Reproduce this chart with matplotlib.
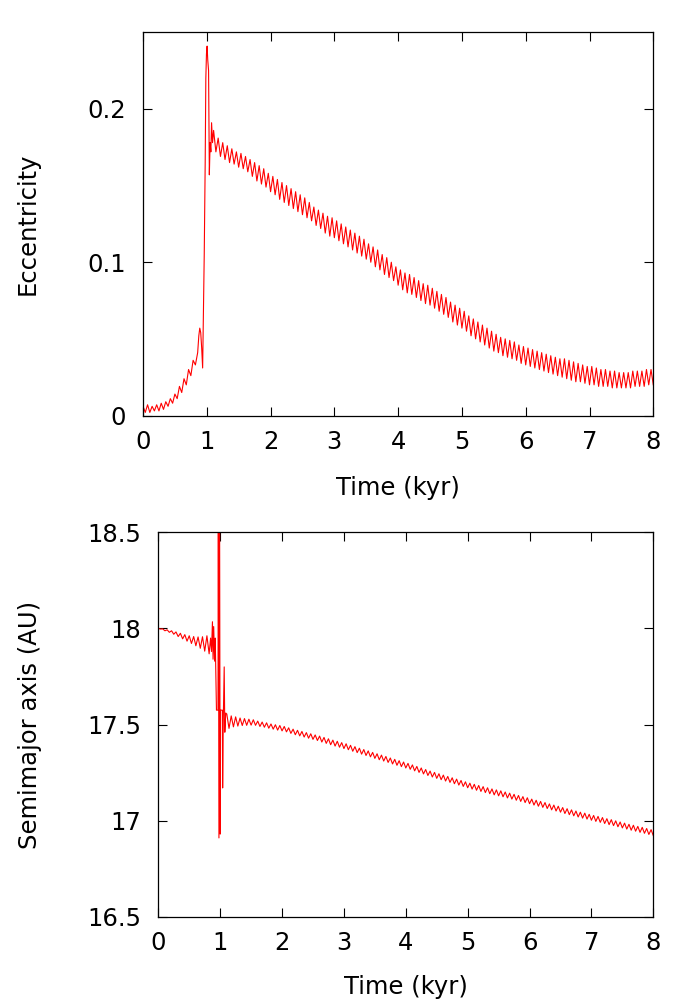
import numpy as np
import matplotlib
matplotlib.use("Agg")
import matplotlib.pyplot as plt

plt.rcParams['font.family'] = ['DejaVu Sans']

# ---------------- data ----------------
# oscillation sampling: peaks every 1/14 kyr, troughs half a period later
OSC = 14.0

# Eccentricity: before the scattering event (t = 0 .. 0.82 kyr)
ecc_pre_peaks = [0.006, 0.007, 0.006, 0.007, 0.008, 0.009, 0.011, 0.014,
                 0.019, 0.024, 0.030, 0.036]
ecc_pre_troughs = [0.002, 0.002, 0.003, 0.003, 0.004, 0.006, 0.008, 0.011,
                   0.015, 0.020, 0.026, 0.033]
# Eccentricity: the jump around t ~ 1 kyr
ecc_event_t = [0.857, 0.875, 0.890, 0.905, 0.920, 0.935, 0.945, 0.960, 0.975,
               0.985, 0.995, 1.005, 1.015, 1.028, 1.040, 1.052, 1.064, 1.075, 1.090]
ecc_event = [0.041, 0.052, 0.057, 0.054, 0.044, 0.031, 0.060, 0.105, 0.165,
             0.220, 0.236, 0.241, 0.232, 0.225, 0.157, 0.178, 0.172, 0.191, 0.178]
# Eccentricity: after the event (peaks from t = 1.107 kyr)
ecc_post_start = 1.107
ecc_post_peaks = [
    0.186, 0.181, 0.178, 0.176, 0.174, 0.172, 0.171,
    0.169, 0.167, 0.165, 0.163, 0.161, 0.158, 0.156,
    0.154, 0.152, 0.150, 0.148, 0.146, 0.144, 0.142,
    0.139, 0.136, 0.134, 0.132, 0.130, 0.129, 0.127,
    0.125, 0.123, 0.121, 0.119, 0.117, 0.115, 0.112,
    0.110, 0.108, 0.105, 0.103, 0.100, 0.097, 0.095,
    0.093, 0.092, 0.090, 0.088, 0.086, 0.085, 0.083,
    0.081, 0.079, 0.077, 0.074, 0.072, 0.070, 0.068,
    0.065, 0.063, 0.061, 0.059, 0.057, 0.055, 0.053,
    0.051, 0.050, 0.049, 0.048, 0.046, 0.045, 0.044,
    0.043, 0.042, 0.041, 0.040, 0.039, 0.038, 0.037,
    0.037, 0.036, 0.035, 0.034, 0.033, 0.032, 0.032,
    0.031, 0.030, 0.030, 0.029, 0.029, 0.028, 0.028,
    0.028, 0.029, 0.029, 0.029, 0.030, 0.030]
ecc_post_troughs = [
    0.172, 0.169, 0.167, 0.165, 0.164, 0.162, 0.161,
    0.159, 0.156, 0.153, 0.151, 0.149, 0.146, 0.144,
    0.141, 0.139, 0.137, 0.135, 0.133, 0.131, 0.129,
    0.127, 0.124, 0.122, 0.119, 0.117, 0.116, 0.114,
    0.112, 0.110, 0.108, 0.106, 0.104, 0.102, 0.100,
    0.097, 0.095, 0.092, 0.090, 0.088, 0.085, 0.082,
    0.080, 0.079, 0.077, 0.075, 0.073, 0.072, 0.070,
    0.068, 0.066, 0.064, 0.061, 0.059, 0.057, 0.055,
    0.052, 0.050, 0.048, 0.046, 0.044, 0.042, 0.041,
    0.039, 0.038, 0.037, 0.036, 0.034, 0.033, 0.032,
    0.031, 0.030, 0.029, 0.028, 0.027, 0.026, 0.025,
    0.024, 0.023, 0.022, 0.022, 0.021, 0.020, 0.020,
    0.019, 0.019, 0.019, 0.018, 0.018, 0.018, 0.018,
    0.018, 0.019, 0.019, 0.019, 0.020, 0.020]

# Semimajor axis (AU): before the event
sma_pre_peaks = [18.000, 17.998, 17.993, 17.988, 17.982, 17.975, 17.968,
                 17.962, 17.958, 17.956, 17.957, 17.962]
sma_pre_troughs = [17.997, 17.988, 17.980, 17.970, 17.958, 17.946, 17.934,
                   17.922, 17.910, 17.897, 17.882, 17.868]
# Semimajor axis: the event (times as they appear in the output, not monotonic)
sma_event_t = [0.845, 0.860, 0.875, 0.885, 0.895, 0.910, 0.920, 0.930, 0.940,
               0.965, 0.970, 0.980, 0.990, 1.000, 1.005, 1.035, 1.040, 1.050,
               1.065, 1.075, 1.090]
sma_event = [17.950, 17.880, 18.035, 17.840, 18.010, 17.830, 17.950, 17.750,
             17.575, 17.575, 18.700, 16.910, 18.700, 16.930, 17.575, 17.575,
             17.170, 17.520, 17.800, 17.460, 17.560]
# Semimajor axis: after the event
sma_post_start = 1.107
sma_post_peaks = [
    17.555, 17.545, 17.540, 17.534, 17.531, 17.528, 17.525,
    17.518, 17.513, 17.509, 17.503, 17.499, 17.495, 17.490,
    17.483, 17.476, 17.470, 17.464, 17.458, 17.452, 17.446,
    17.440, 17.433, 17.426, 17.419, 17.413, 17.406, 17.400,
    17.392, 17.385, 17.377, 17.370, 17.363, 17.355, 17.348,
    17.341, 17.334, 17.326, 17.319, 17.312, 17.305, 17.298,
    17.290, 17.282, 17.274, 17.266, 17.258, 17.251, 17.244,
    17.237, 17.230, 17.223, 17.216, 17.209, 17.202, 17.195,
    17.189, 17.183, 17.177, 17.171, 17.165, 17.160, 17.155,
    17.149, 17.143, 17.137, 17.131, 17.125, 17.119, 17.112,
    17.106, 17.100, 17.094, 17.087, 17.081, 17.075, 17.068,
    17.062, 17.056, 17.050, 17.044, 17.039, 17.033, 17.027,
    17.022, 17.016, 17.010, 17.005, 16.999, 16.993, 16.987,
    16.981, 16.976, 16.970, 16.965, 16.959, 16.953]
sma_post_troughs = [
    17.480, 17.488, 17.492, 17.495, 17.496, 17.497, 17.496,
    17.490, 17.486, 17.481, 17.476, 17.471, 17.467, 17.462,
    17.454, 17.447, 17.441, 17.435, 17.429, 17.423, 17.417,
    17.409, 17.402, 17.395, 17.388, 17.382, 17.375, 17.369,
    17.361, 17.354, 17.346, 17.339, 17.332, 17.324, 17.317,
    17.310, 17.303, 17.295, 17.288, 17.281, 17.274, 17.267,
    17.259, 17.251, 17.243, 17.235, 17.227, 17.220, 17.213,
    17.206, 17.199, 17.192, 17.185, 17.178, 17.171, 17.164,
    17.158, 17.152, 17.146, 17.140, 17.134, 17.129, 17.124,
    17.118, 17.112, 17.106, 17.100, 17.094, 17.088, 17.081,
    17.075, 17.069, 17.063, 17.056, 17.050, 17.044, 17.037,
    17.031, 17.025, 17.019, 17.013, 17.008, 17.002, 16.996,
    16.991, 16.985, 16.979, 16.974, 16.968, 16.962, 16.956,
    16.950, 16.945, 16.939, 16.934, 16.928, 16.922]

ecc_yticks = [0, 0.1, 0.2]
ecc_yticklabels = ['0', '0.1', '0.2']
sma_yticks = [16.5, 17, 17.5, 18, 18.5]
sma_yticklabels = ['16.5', '17', '17.5', '18', '18.5']
time_ticks = [0, 1, 2, 3, 4, 5, 6, 7, 8]


def interleave(start, peaks, troughs):
    """Merge read peak/trough values into one time series."""
    n = len(peaks)
    tp = start + np.arange(n) / OSC
    tt = tp + 0.5 / OSC
    t = np.empty(2 * n)
    v = np.empty(2 * n)
    t[0::2], t[1::2] = tp, tt
    v[0::2], v[1::2] = peaks, troughs
    return t, v


def series(pre_p, pre_t, ev_t, ev_v, post_start, post_p, post_t):
    t1, v1 = interleave(0.0, pre_p, pre_t)
    t3, v3 = interleave(post_start, post_p, post_t)
    t = np.concatenate([t1, np.asarray(ev_t), t3])
    v = np.concatenate([v1, np.asarray(ev_v), v3])
    return t, v


t_ecc, ecc = series(ecc_pre_peaks, ecc_pre_troughs, ecc_event_t, ecc_event,
                    ecc_post_start, ecc_post_peaks, ecc_post_troughs)
t_sma, sma = series(sma_pre_peaks, sma_pre_troughs, sma_event_t, sma_event,
                    sma_post_start, sma_post_peaks, sma_post_troughs)

# ---------------- figure ----------------
fig = plt.figure(figsize=(7, 10), dpi=100)
ax1 = fig.add_axes([143 / 700, 1 - 415.5 / 1000, 510.3 / 700, 383.2 / 1000])
ax2 = fig.add_axes([158.3 / 700, 1 - 916.7 / 1000, 495.0 / 700, 384.3 / 1000])

FS = 17.5
LINE = dict(color='#ff0000', lw=0.8)

for ax in (ax1, ax2):
    ax.set_xlim(0, 8)
    ax.set_xticks(time_ticks)
    ax.set_xticklabels([str(v) for v in time_ticks])
    ax.tick_params(axis='both', direction='in', length=6.5, width=0.8,
                   top=True, right=True, labelsize=FS, colors='black')
    ax.tick_params(axis='x', pad=10.5)
    ax.tick_params(axis='y', pad=12.5)
    for sp in ax.spines.values():
        sp.set_linewidth(0.9)
        sp.set_color('black')
    ax.set_xlabel('Time (kyr)', fontsize=FS)

ax1.plot(t_ecc, ecc, **LINE)
ax1.set_ylim(0, 0.25)
ax1.set_yticks(ecc_yticks)
ax1.set_yticklabels(ecc_yticklabels)
ax1.set_ylabel('Eccentricity', fontsize=FS)
ax1.yaxis.set_label_coords(-0.202, 0.5)
ax1.xaxis.set_label_coords(0.5, -0.158)

ax2.plot(t_sma, sma, **LINE)
ax2.set_ylim(16.5, 18.5)
ax2.set_yticks(sma_yticks)
ax2.set_yticklabels(sma_yticklabels)
ax2.set_ylabel('Semimajor axis (AU)', fontsize=FS)
ax2.yaxis.set_label_coords(-0.235, 0.5)
ax2.xaxis.set_label_coords(0.5, -0.152)

fig.savefig('out.png', dpi=100)
